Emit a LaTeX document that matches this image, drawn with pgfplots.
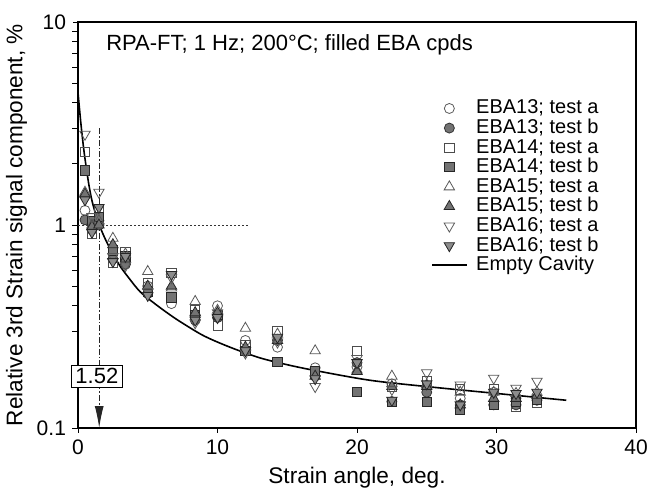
\documentclass[border=0pt]{standalone}
\usepackage{pgfplots}
\pgfplotsset{compat=1.18}
\usepackage{pgfplotstable}
\usepackage{fontspec}
\setmainfont{Liberation Sans}
\usetikzlibrary{arrows.meta}

\pgfplotstableread{
x     a13   b13   a14   b14   a15   b15   a16   b16
0.5   1.18  1.06  2.30  1.86  1.45  1.42  2.80  1.33
1.0   1.00  0.95  0.90  1.05  1.00  0.98  1.10  0.92
1.5   1.05  1.00  1.20  1.10  1.05  1.00  1.45  1.22
2.5   0.72  0.68  0.65  0.75  0.86  0.80  0.70  0.66
3.4   0.66  0.64  0.74  0.70  0.72  0.68  0.63  0.70
5.0   0.50  0.46  0.52  0.47  0.59  0.50  0.47  0.45
6.7   0.41  0.44  0.58  0.44  0.49  0.50  0.55  0.57
8.4   0.36  0.34  0.38  0.36  0.42  0.37  0.33  0.34
10.0  0.40  0.35  0.32  0.36  0.38  0.37  0.37  0.35
12.0  0.27  0.24  0.256 0.24  0.31  0.25  0.234 0.24
14.3  0.25  0.27  0.30  0.212 0.29  0.27  0.265 0.28
17.0  0.198 0.18  0.19  0.19  0.24  0.18  0.16  0.175
20.0  0.20  0.21  0.24  0.15  0.193 0.19  0.22  0.21
22.5  0.165 0.135 0.16  0.135 0.18  0.16  0.155 0.137
25.0  0.16  0.15  0.17  0.135 0.163 0.16  0.187 0.165
27.4  0.14  0.13  0.155 0.123 0.15  0.13  0.163 0.13
29.8  0.15  0.13  0.155 0.13  0.15  0.14  0.176 0.15
31.4  0.14  0.13  0.127 0.135 0.148 0.14  0.157 0.148
32.9  0.14  0.137 0.133 0.137 0.15  0.145 0.17  0.15
}\datatable

\pgfplotstableread{
x     y
0     4.5
0.2   3.2
0.4   2.4
0.6   1.9
0.8   1.55
1.0   1.32
1.25  1.14
1.52  1.0
2.0   0.84
2.5   0.72
3.0   0.63
3.5   0.565
4.44  0.47
5.5   0.41
6.5   0.365
7.3   0.335
9.0   0.285
10.9  0.25
13.0  0.222
15.0  0.205
17.0  0.192
20.9  0.172
25.0  0.16
30.0  0.148
35.0  0.137
}\cavity

\begin{document}
\begin{tikzpicture}[x=1pt,y=1pt]
\useasboundingbox (-39,-30) rectangle (286.5,214);
\begin{axis}[
  at={(0,0)}, anchor=south west,
  scale only axis, width=279pt, height=203pt,
  xmin=0, xmax=40, ymode=log, ymin=0.1, ymax=10,
  xtick={0,10,20,30,40},
  ytick={0.1,1,10}, yticklabels={0.1,1,10},
  tick align=outside, xtick pos=left, ytick pos=left,
  major tick length=2.5pt,
  axis line style={line width=0.7pt},
  every tick/.style={black, line width=0.5pt},
  tick label style={font=\fontsize{10.5}{12}\selectfont},
  /pgf/number format/assume math mode=true,
  xlabel={Strain angle, deg.},
  ylabel={Relative 3rd Strain signal component, \%},
  xlabel style={font=\fontsize{11.3}{13}\selectfont, yshift=0.8pt},
  ylabel style={font=\fontsize{11.3}{13}\selectfont, yshift=-2pt},
  clip=false,
  legend style={draw=none, fill=none, at={(rel axis cs:0.622,0.822)}, anchor=north west,
    font=\fontsize{10}{10}\selectfont, row sep=0pt, column sep=4.5pt,
    nodes={inner sep=0pt, text height=7.6pt, text depth=2.2pt}},
  legend cell align=left,
]
\addplot[only marks, mark=o, mark size=2.5pt, black!65, mark options={line width=0.4pt}] table[x=x,y=a13] {\datatable};
\addlegendentry{EBA13; test a}
\addplot[only marks, mark=*, mark size=2.5pt, draw=black!80, fill=black!55, mark options={line width=0.4pt}] table[x=x,y=b13] {\datatable};
\addlegendentry{EBA13; test b}
\addplot[only marks, mark=square, mark size=2.3pt, black!70, mark options={line width=0.4pt}] table[x=x,y=a14] {\datatable};
\addlegendentry{EBA14; test a}
\addplot[only marks, mark=square*, mark size=2.3pt, draw=black!85, fill=black!55, mark options={line width=0.4pt}] table[x=x,y=b14] {\datatable};
\addlegendentry{EBA14; test b}
\addplot[only marks, mark=triangle, mark size=3pt, black!65, mark options={line width=0.4pt}] table[x=x,y=a15] {\datatable};
\addlegendentry{EBA15; test a}
\addplot[only marks, mark=triangle*, mark size=3pt, draw=black!85, fill=black!55, mark options={line width=0.4pt}] table[x=x,y=b15] {\datatable};
\addlegendentry{EBA15; test b}
\addplot[only marks, mark=triangle, mark size=3pt, black!65, mark options={line width=0.4pt, rotate=180}] table[x=x,y=a16] {\datatable};
\addlegendentry{EBA16; test a}
\addplot[only marks, mark=triangle*, mark size=3pt, draw=black!85, fill=black!45, mark options={line width=0.4pt, rotate=180}] table[x=x,y=b16] {\datatable};
\addlegendentry{EBA16; test b}
\addplot[black, line width=0.8pt, smooth, no marks] table[x=x,y=y] {\cavity};
\addlegendentry{Empty Cavity}

% annotation lines
\addplot[forget plot, black!80, line width=0.5pt, dash pattern=on 1.2pt off 0.8pt, no marks] coordinates {(0,1) (12.3,1)};
\addplot[forget plot, black!85, line width=0.5pt, dash pattern=on 3pt off 1pt on 0.8pt off 1pt, no marks, -{Latex[length=11pt,width=4.5pt]}] coordinates {(1.52,3.0) (1.52,0.1)};
\node[draw=black, line width=0.6pt, fill=white, inner sep=1pt, minimum width=25.5pt, minimum height=11pt,
  font=\fontsize{11}{12}\selectfont] at (axis cs:1.35,0.18) {1.52};
\node[anchor=west, inner sep=0pt, font=\fontsize{11}{12}\selectfont] at (rel axis cs:0.05,0.943) {RPA-FT; 1 Hz; 200°C; filled EBA cpds};
\end{axis}
\end{tikzpicture}
\end{document}
